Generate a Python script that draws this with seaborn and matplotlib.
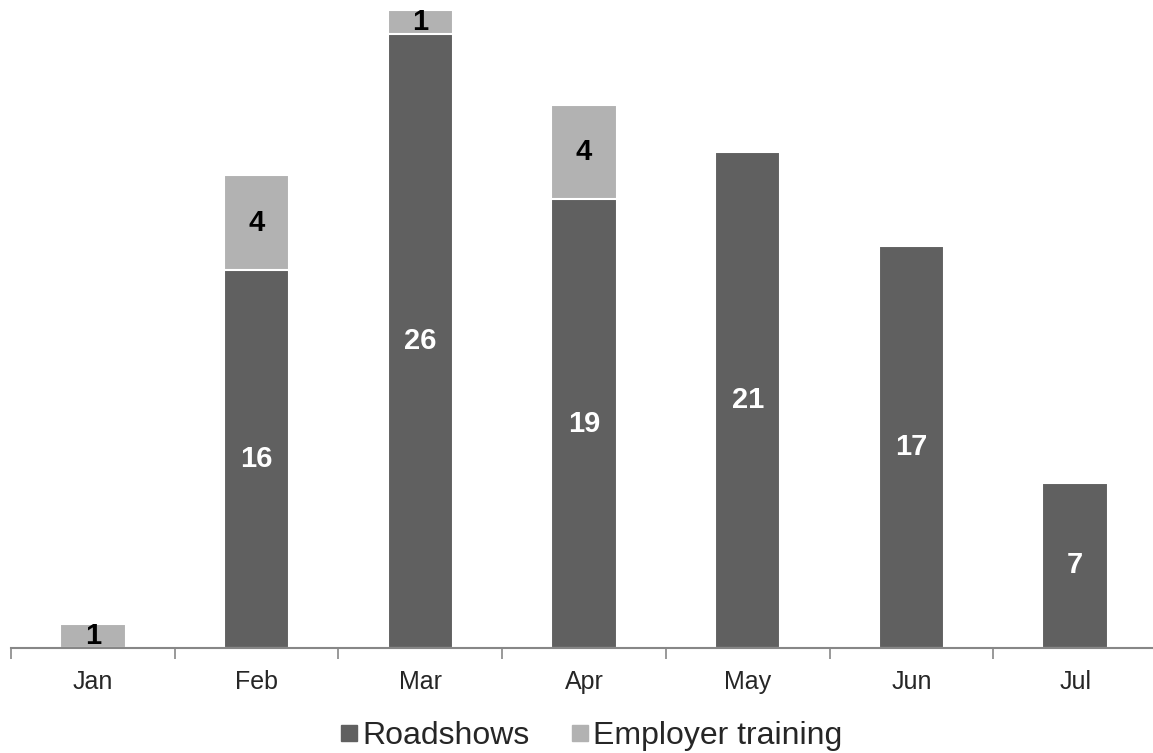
import numpy as np
import matplotlib
matplotlib.use('Agg')
import matplotlib.pyplot as plt
import seaborn as sns
from matplotlib.lines import Line2D

months = ['Jan', 'Feb', 'Mar', 'Apr', 'May', 'Jun', 'Jul']
roadshows = [0, 16, 26, 19, 21, 17, 7]
employer_training = [1, 4, 1, 4, 0, 0, 0]
series_names = ['Roadshows', 'Employer training']

dark = '#606060'
light = '#B2B2B2'

sns.set_style('white')
plt.rcParams['font.family'] = ['Liberation Sans', 'DejaVu Sans']

fig = plt.figure(figsize=(11.53, 7.53), dpi=100)
ax = fig.add_axes([0.0095, 0.1394, 0.994, 0.8473])

totals = [r + e for r, e in zip(roadshows, employer_training)]

# Light segment drawn as full stack, dark roadshows drawn over it
sns.barplot(x=months, y=totals, color=light, width=0.4, saturation=1,
            edgecolor='white', linewidth=1.5, ax=ax)
sns.barplot(x=months, y=roadshows, color=dark, width=0.4, saturation=1,
            edgecolor='white', linewidth=1.5, ax=ax)

# Value labels
for i, (r, e) in enumerate(zip(roadshows, employer_training)):
    if r > 0:
        ax.text(i, r / 2, str(r), ha='center', va='center', color='white',
                fontsize=21, fontweight='bold')
    if e > 0:
        ax.text(i, r + e / 2, str(e), ha='center', va='center', color='black',
                fontsize=21, fontweight='bold')

ax.set_xlim(-0.5, len(months) - 0.5)
ax.set_ylim(0, 27)
ax.set_yticks([])
ax.set_xlabel('')
ax.set_ylabel('')

for side in ['top', 'right', 'left']:
    ax.spines[side].set_visible(False)
ax.spines['bottom'].set_color('#878787')
ax.spines['bottom'].set_linewidth(1.5)

ax.set_xticks(range(len(months)))
ax.set_xticklabels(months, fontsize=18)
ax.set_xticks(np.arange(-0.5, len(months)), minor=True)
ax.tick_params(axis='x', which='major', length=0, pad=16)
ax.tick_params(axis='x', which='minor', length=8, width=1.2, color='#878787',
               direction='out', bottom=True)

handles = [Line2D([0], [0], marker='s', linestyle='', markersize=11,
                  markerfacecolor=c, markeredgecolor=c) for c in (dark, light)]
fig.legend(handles, series_names, loc='center', bbox_to_anchor=(0.5126, 0.022),
           ncol=2, frameon=False, fontsize=23, handletextpad=0.1,
           columnspacing=1.3, handlelength=0.6)

fig.savefig('out.png', dpi=100)
